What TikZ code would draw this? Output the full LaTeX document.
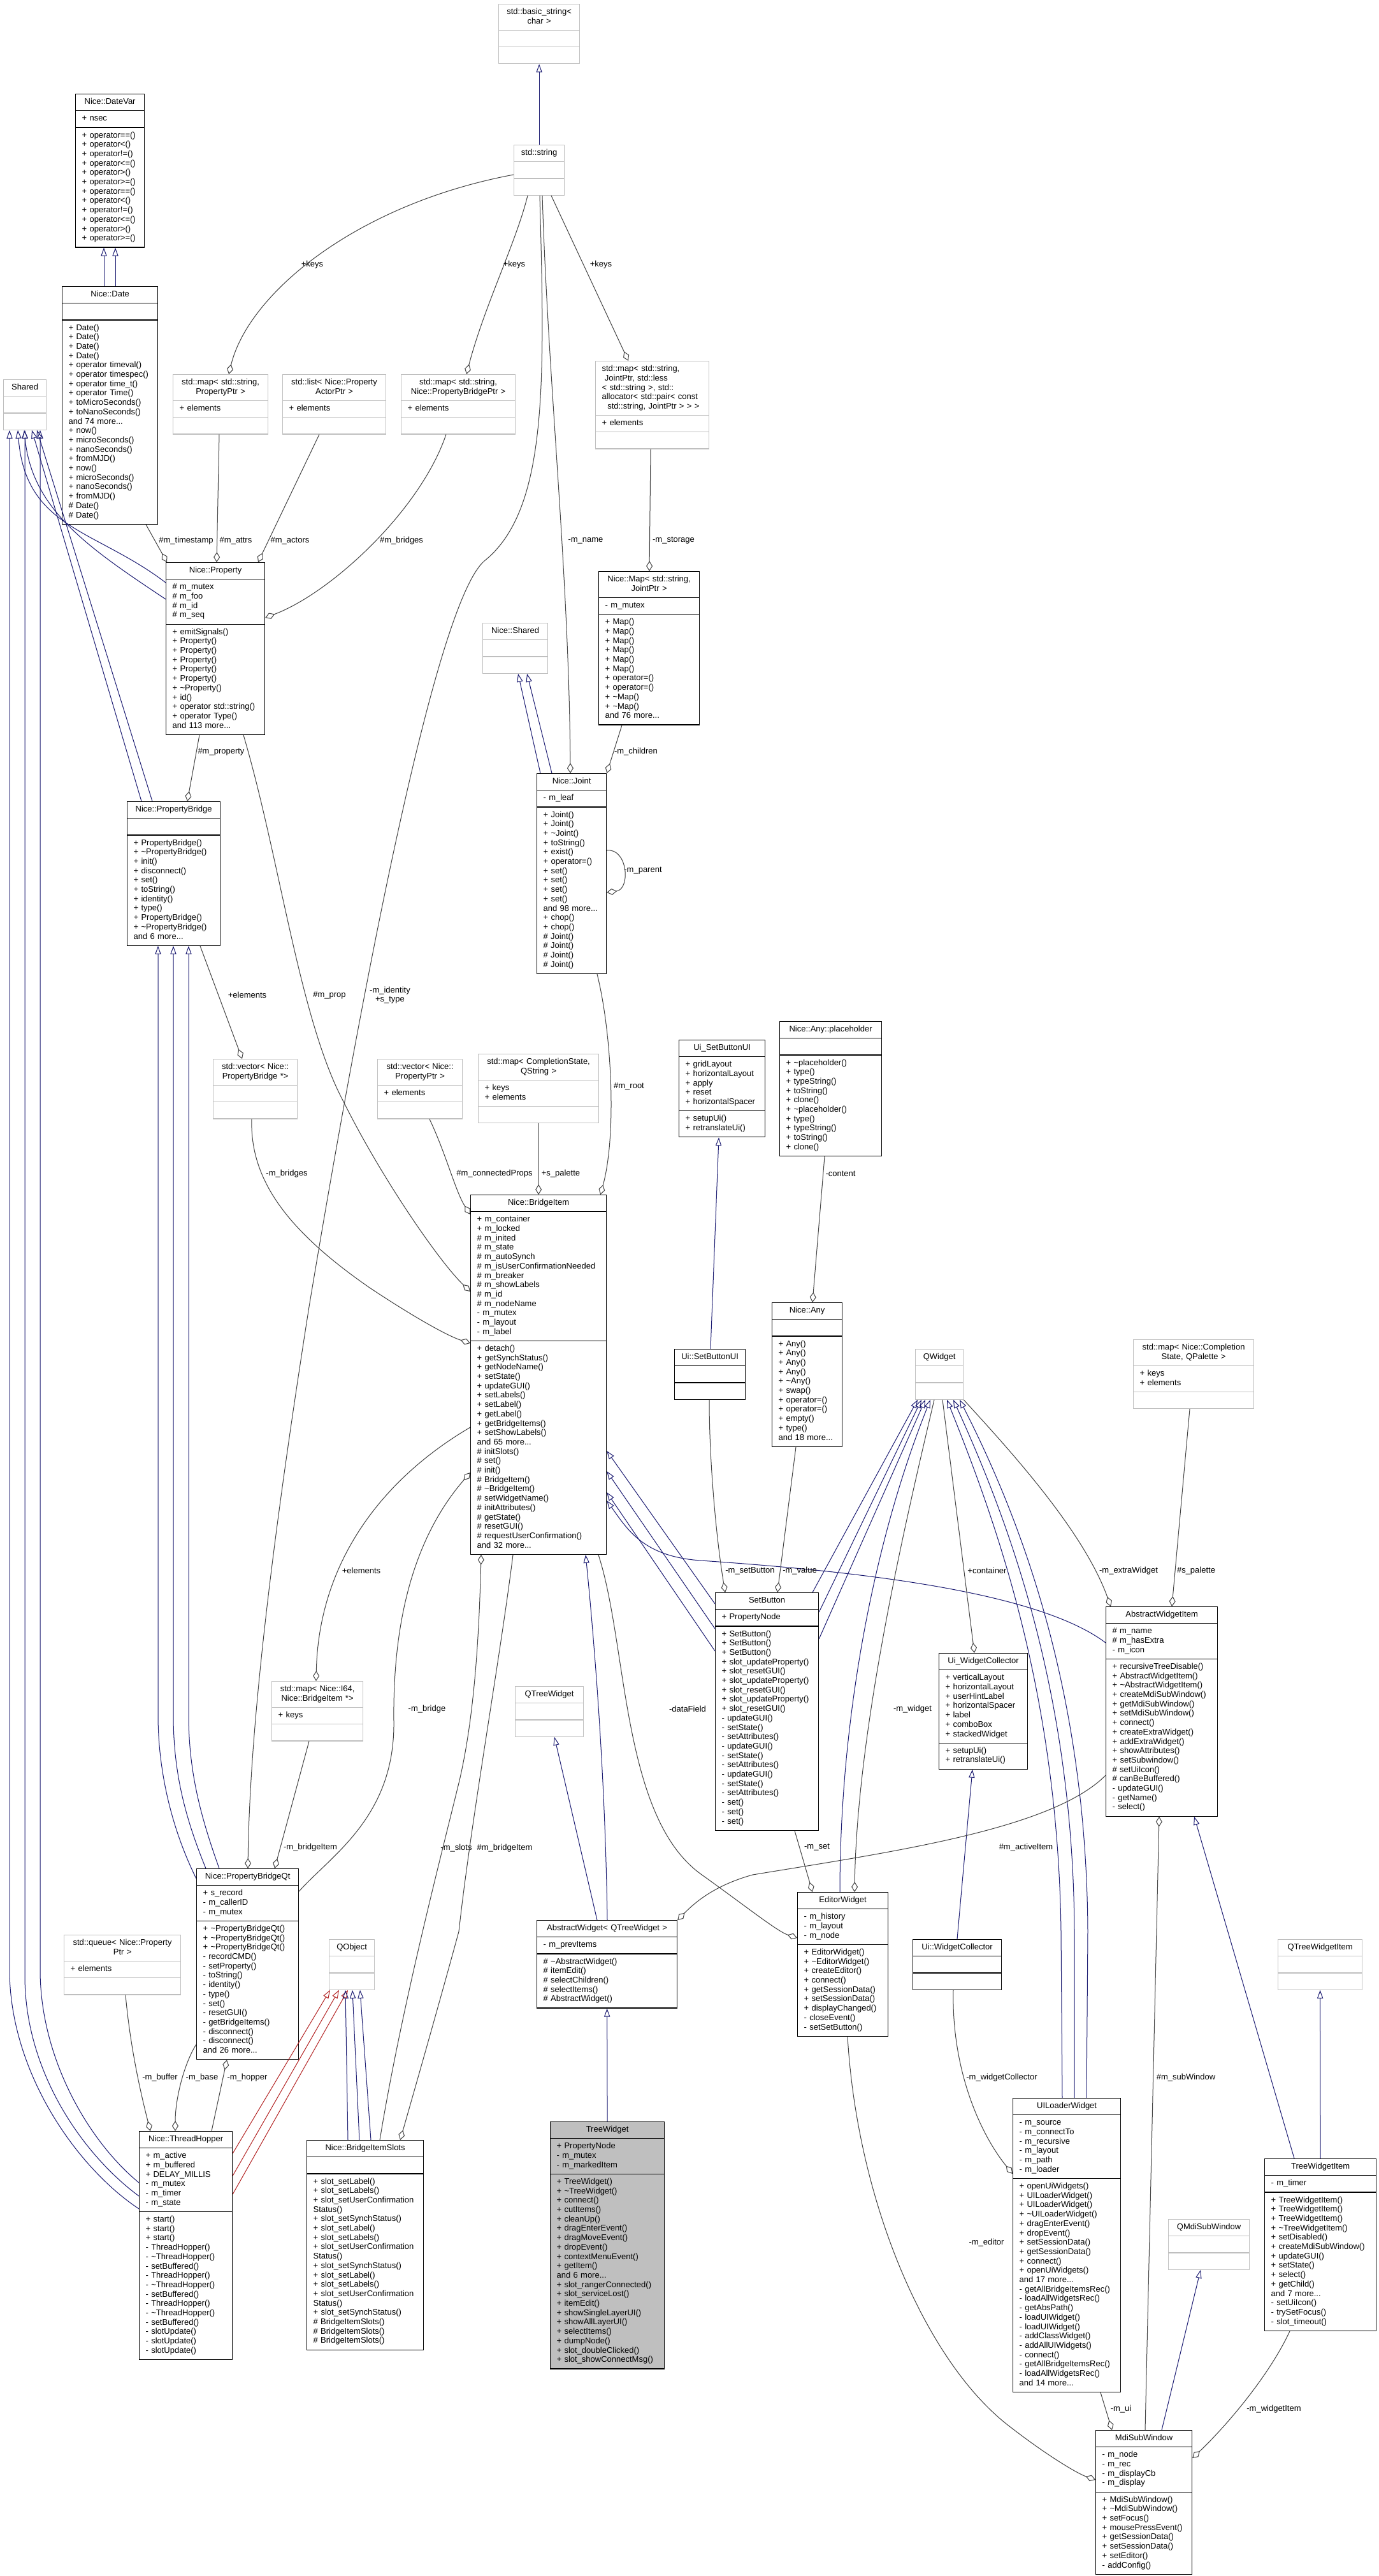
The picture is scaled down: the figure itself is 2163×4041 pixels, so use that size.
\documentclass[tikz,border=0pt]{standalone}
\usepackage{fontspec}
\setmainfont{Liberation Sans}
\usepackage{tikz}
\usetikzlibrary{arrows.meta,shapes.multipart,calc}
\definecolor{inhblue}{HTML}{191970}
\definecolor{privred}{HTML}{B22222}
\definecolor{usegray}{HTML}{404040}
\definecolor{undocgray}{HTML}{BFBFBF}
\newcommand{\umlfont}{\fontsize{6.5pt}{7.35pt}\selectfont}
\makeatletter
\newcommand{\umlrows}[1]{\uml@first#1\\\@nil\\}
\def\uml@first#1\\{\mbox{\strut#1}\uml@next}
\def\uml@next#1\\{\ifx\@nil#1\par\else\par\mbox{\strut#1}\expandafter\uml@next\fi}
\makeatother
\newcommand{\jl}[1]{\makebox[79pt][l]{#1}}
\tikzset{
    umlbox/.style={rectangle split, rectangle split parts=3, draw=black, line width=0.6pt, anchor=north west, inner xsep=5pt, inner ysep=2.575pt, font=\umlfont},
    undocbox/.style={draw=undocgray},
    curbox/.style={fill=undocgray},
    inhline/.style={draw=inhblue, line width=0.5pt, -{Triangle[open, length=6.5pt, width=4.6pt]}},
    privline/.style={inhline, draw=privred},
    useline/.style={draw=usegray, line width=0.5pt, -{Diamond[open, length=8pt, width=5pt]}},
    edgelbl/.style={font=\umlfont, inner sep=0pt, align=center}
}
\newcommand{\umlclass}[8][]{%
    \pgfmathsetlengthmacro{\umlw}{#5*0.5pt-10pt}%
    \node[umlbox, #1, text width=\umlw] (#2) at (#3,#4)
        {\umlfont\centering\umlrows{#6}\nodepart{two}\umlfont\raggedright\umlrows{#7}\nodepart{three}\umlfont\raggedright\umlrows{#8}};}

\begin{document}
\begin{tikzpicture}[x=0.5pt, y=-0.5pt]
    \useasboundingbox (0,0) rectangle (2163,4041);
    % classes
    \umlclass[undocbox]{basic}{782}{6}{127}{std::basic\_string<\\char >}{}{}
    \umlclass[undocbox]{stdstring}{806}{227}{79}{std::string}{}{}
    \umlclass{datevar}{118}{147}{108}{Nice::DateVar}{+ nsec}{+ operator==()\\+ operator<()\\+ operator!=()\\+ operator<=()\\+ operator>()\\+ operator>=()\\+ operator==()\\+ operator<()\\+ operator!=()\\+ operator<=()\\+ operator>()\\+ operator>=()}
    \umlclass{date}{97}{449}{150}{Nice::Date}{}{+ Date()\\+ Date()\\+ Date()\\+ Date()\\+ operator timeval()\\+ operator timespec()\\+ operator time\_t()\\+ operator Time()\\+ toMicroSeconds()\\+ toNanoSeconds()\\and 74 more...\\+ now()\\+ microSeconds()\\+ nanoSeconds()\\+ fromMJD()\\+ now()\\+ microSeconds()\\+ nanoSeconds()\\+ fromMJD()\\\# Date()\\\# Date()}
    \umlclass[undocbox]{shared}{5}{595}{67}{Shared}{}{}
    \umlclass[undocbox]{mapprop}{271}{587}{149}{std::map< std::string,\\PropertyPtr >}{+ elements}{}
    \umlclass[undocbox]{listactor}{443}{587}{162}{std::list< Nice::Property\\ActorPtr >}{+ elements}{}
    \umlclass[undocbox]{mapbridge}{629}{587}{179}{std::map< std::string,\\Nice::PropertyBridgePtr >}{+ elements}{}
    \umlclass[undocbox]{mapjoint}{934}{566}{178}{\jl{std::map< std::string,}\\\jl{\ JointPtr, std::less}\\\jl{< std::string >, std::}\\\jl{allocator< std::pair< const}\\\jl{\ \ std::string, JointPtr > > >}}{+ elements}{}
    \umlclass{prop}{260}{882}{155}{Nice::Property}{\# m\_mutex\\\# m\_foo\\\# m\_id\\\# m\_seq}{+ emitSignals()\\+ Property()\\+ Property()\\+ Property()\\+ Property()\\+ Property()\\+ \textasciitilde Property()\\+ id()\\+ operator std::string()\\+ operator Type()\\and 113 more...}
    \umlclass{map}{939}{896}{158}{Nice::Map< std::string,\\JointPtr >}{- m\_mutex}{+ Map()\\+ Map()\\+ Map()\\+ Map()\\+ Map()\\+ Map()\\+ operator=()\\+ operator=()\\+ \textasciitilde Map()\\+ \textasciitilde Map()\\and 76 more...}
    \umlclass[undocbox]{nshared}{757}{977}{102}{Nice::Shared}{}{}
    \umlclass{joint}{842}{1213}{109}{Nice::Joint}{- m\_leaf}{+ Joint()\\+ Joint()\\+ \textasciitilde Joint()\\+ toString()\\+ exist()\\+ operator=()\\+ set()\\+ set()\\+ set()\\+ set()\\and 98 more...\\+ chop()\\+ chop()\\\# Joint()\\\# Joint()\\\# Joint()\\\# Joint()}
    \umlclass{pbridge}{199}{1257}{146}{Nice::PropertyBridge}{}{+ PropertyBridge()\\+ \textasciitilde PropertyBridge()\\+ init()\\+ disconnect()\\+ set()\\+ toString()\\+ identity()\\+ type()\\+ PropertyBridge()\\+ \textasciitilde PropertyBridge()\\and 6 more...}
    \umlclass[undocbox]{vecbridge}{334}{1661}{132}{std::vector< Nice::\\PropertyBridge *>}{}{}
    \umlclass[undocbox]{vecprop}{592}{1661}{133}{std::vector< Nice::\\PropertyPtr >}{+ elements}{}
    \umlclass[undocbox]{mapqstring}{750}{1653}{189}{std::map< CompletionState,\\QString >}{+ keys\\+ elements}{}
    \umlclass{sbbase}{1065}{1631}{135}{Ui\_SetButtonUI}{+ gridLayout\\+ horizontalLayout\\+ apply\\+ reset\\+ horizontalSpacer}{+ setupUi()\\+ retranslateUi()}
    \umlclass{placeholder}{1223}{1602}{160}{Nice::Any::placeholder}{}{+ \textasciitilde placeholder()\\+ type()\\+ typeString()\\+ toString()\\+ clone()\\+ \textasciitilde placeholder()\\+ type()\\+ typeString()\\+ toString()\\+ clone()}
    \umlclass{bridgeitem}{738}{1874}{213}{Nice::BridgeItem}{+ m\_container\\+ m\_locked\\\# m\_inited\\\# m\_state\\\# m\_autoSynch\\\# m\_isUserConfirmationNeeded\\\# m\_breaker\\\# m\_showLabels\\\# m\_id\\\# m\_nodeName\\- m\_mutex\\- m\_layout\\- m\_label}{+ detach()\\+ getSynchStatus()\\+ getNodeName()\\+ setState()\\+ updateGUI()\\+ setLabels()\\+ setLabel()\\+ getLabel()\\+ getBridgeItems()\\+ setShowLabels()\\and 65 more...\\\# initSlots()\\\# set()\\\# init()\\\# BridgeItem()\\\# \textasciitilde BridgeItem()\\\# setWidgetName()\\\# initAttributes()\\\# getState()\\\# resetGUI()\\\# requestUserConfirmation()\\and 32 more...}
    \umlclass{uisb}{1058}{2116}{111}{Ui::SetButtonUI}{}{}
    \umlclass{any}{1211}{2043}{110}{Nice::Any}{}{+ Any()\\+ Any()\\+ Any()\\+ Any()\\+ \textasciitilde Any()\\+ swap()\\+ operator=()\\+ operator=()\\+ empty()\\+ type()\\and 18 more...}
    \umlclass[undocbox]{qwidget}{1436}{2116}{75}{QWidget}{}{}
    \umlclass[undocbox]{mappalette}{1778}{2101}{189}{std::map< Nice::Completion\\State, QPalette >}{+ keys\\+ elements}{}
    \umlclass{setbutton}{1122}{2498}{162}{SetButton}{+ PropertyNode}{+ SetButton()\\+ SetButton()\\+ SetButton()\\+ slot\_updateProperty()\\+ slot\_resetGUI()\\+ slot\_updateProperty()\\+ slot\_resetGUI()\\+ slot\_updateProperty()\\+ slot\_resetGUI()\\- updateGUI()\\- setState()\\- setAttributes()\\- updateGUI()\\- setState()\\- setAttributes()\\- updateGUI()\\- setState()\\- setAttributes()\\- set()\\- set()\\- set()}
    \umlclass{uiwcbase}{1473}{2593}{139}{Ui\_WidgetCollector}{+ verticalLayout\\+ horizontalLayout\\+ userHintLabel\\+ horizontalSpacer\\+ label\\+ comboBox\\+ stackedWidget}{+ setupUi()\\+ retranslateUi()}
    \umlclass{awitem}{1735}{2520}{175}{AbstractWidgetItem}{\# m\_name\\\# m\_hasExtra\\- m\_icon}{+ recursiveTreeDisable()\\+ AbstractWidgetItem()\\+ \textasciitilde AbstractWidgetItem()\\+ createMdiSubWindow()\\+ getMdiSubWindow()\\+ setMdiSubWindow()\\+ connect()\\+ createExtraWidget()\\+ addExtraWidget()\\+ showAttributes()\\+ setSubwindow()\\\# setUiIcon()\\\# canBeBuffered()\\- updateGUI()\\- getName()\\- select()}
    \umlclass[undocbox]{mapi64}{426}{2637}{143}{std::map< Nice::I64,\\Nice::BridgeItem *>}{+ keys}{}
    \umlclass[undocbox]{qtreewidget}{808}{2645}{107}{QTreeWidget}{}{}
    \umlclass{pbqt}{308}{2931}{160}{Nice::PropertyBridgeQt}{+ s\_record\\- m\_callerID\\- m\_mutex}{+ \textasciitilde PropertyBridgeQt()\\+ \textasciitilde PropertyBridgeQt()\\+ \textasciitilde PropertyBridgeQt()\\- recordCMD()\\- setProperty()\\- toString()\\- identity()\\- type()\\- set()\\- resetGUI()\\- getBridgeItems()\\- disconnect()\\- disconnect()\\and 26 more...}
    \umlclass{absw}{842}{3012}{220}{AbstractWidget< QTreeWidget >}{- m\_prevItems}{\# \textasciitilde AbstractWidget()\\\# itemEdit()\\\# selectChildren()\\\# selectItems()\\\# AbstractWidget()}
    \umlclass{editor}{1251}{2968}{142}{EditorWidget}{- m\_history\\- m\_layout\\- m\_node}{+ EditorWidget()\\+ \textasciitilde EditorWidget()\\+ createEditor()\\+ connect()\\+ getSessionData()\\+ setSessionData()\\+ displayChanged()\\- closeEvent()\\- setSetButton()}
    \umlclass[undocbox]{queue}{100}{3035}{183}{std::queue< Nice::Property\\Ptr >}{+ elements}{}
    \umlclass[undocbox]{qobject}{516}{3042}{71}{QObject}{}{}
    \umlclass{uiwc}{1432}{3042}{139}{Ui::WidgetCollector}{}{}
    \umlclass[undocbox]{qtwitem}{2005}{3042}{132}{QTreeWidgetItem}{}{}
    \umlclass{hopper}{218}{3343}{146}{Nice::ThreadHopper}{+ m\_active\\+ m\_buffered\\+ DELAY\_MILLIS\\- m\_mutex\\- m\_timer\\- m\_state}{+ start()\\+ start()\\+ start()\\- ThreadHopper()\\- \textasciitilde ThreadHopper()\\- setBuffered()\\- ThreadHopper()\\- \textasciitilde ThreadHopper()\\- setBuffered()\\- ThreadHopper()\\- \textasciitilde ThreadHopper()\\- setBuffered()\\- slotUpdate()\\- slotUpdate()\\- slotUpdate()}
    \umlclass{slots}{481}{3357}{183}{Nice::BridgeItemSlots}{}{+ slot\_setLabel()\\+ slot\_setLabels()\\+ slot\_setUserConfirmation\\Status()\\+ slot\_setSynchStatus()\\+ slot\_setLabel()\\+ slot\_setLabels()\\+ slot\_setUserConfirmation\\Status()\\+ slot\_setSynchStatus()\\+ slot\_setLabel()\\+ slot\_setLabels()\\+ slot\_setUserConfirmation\\Status()\\+ slot\_setSynchStatus()\\\# BridgeItemSlots()\\\# BridgeItemSlots()\\\# BridgeItemSlots()}
    \umlclass[curbox]{treewidget}{863}{3328}{179}{TreeWidget}{+ PropertyNode\\- m\_mutex\\- m\_markedItem}{+ TreeWidget()\\+ \textasciitilde TreeWidget()\\+ connect()\\+ cutItems()\\+ cleanUp()\\+ dragEnterEvent()\\+ dragMoveEvent()\\+ dropEvent()\\+ contextMenuEvent()\\+ getItem()\\and 6 more...\\+ slot\_rangerConnected()\\+ slot\_serviceLost()\\+ itemEdit()\\+ showSingleLayerUI()\\+ showAllLayerUI()\\+ selectItems()\\+ dumpNode()\\+ slot\_doubleClicked()\\+ slot\_showConnectMsg()}
    \umlclass{uiloader}{1589}{3291}{169}{UILoaderWidget}{- m\_source\\- m\_connectTo\\- m\_recursive\\- m\_layout\\- m\_path\\- m\_loader}{+ openUiWidgets()\\+ UILoaderWidget()\\+ UILoaderWidget()\\+ \textasciitilde UILoaderWidget()\\+ dragEnterEvent()\\+ dropEvent()\\+ setSessionData()\\+ getSessionData()\\+ connect()\\+ openUiWidgets()\\and 17 more...\\- getAllBridgeItemsRec()\\- loadAllWidgetsRec()\\- getAbsPath()\\- loadUIWidget()\\- loadUIWidget()\\- addClassWidget()\\- addAllUIWidgets()\\- connect()\\- getAllBridgeItemsRec()\\- loadAllWidgetsRec()\\and 14 more...}
    \umlclass[undocbox]{qmdi}{1833}{3481}{127}{QMdiSubWindow}{}{}
    \umlclass{twitem}{1984}{3386}{175}{TreeWidgetItem}{- m\_timer}{+ TreeWidgetItem()\\+ TreeWidgetItem()\\+ TreeWidgetItem()\\+ \textasciitilde TreeWidgetItem()\\+ setDisabled()\\+ createMdiSubWindow()\\+ updateGUI()\\+ setState()\\+ select()\\+ getChild()\\and 7 more...\\- setUiIcon()\\- trySetFocus()\\- slot\_timeout()}
    \umlclass{mdi}{1719}{3812}{151}{MdiSubWindow}{- m\_node\\- m\_rec\\- m\_displayCb\\- m\_display}{+ MdiSubWindow()\\+ \textasciitilde MdiSubWindow()\\+ setFocus()\\+ mousePressEvent()\\+ getSessionData()\\+ setSessionData()\\+ setEditor()\\- addConfig()}
    % inheritance
    \draw[inhline] (stdstring.north) -- (basic.south);
    \draw[inhline] ($(date.north west)+(66,0)$) -- ($(datevar.south west)+(45,0)$);
    \draw[inhline] ($(date.north west)+(84,0)$) -- ($(datevar.south west)+(63,0)$);
    \draw[inhline] ($(prop.north west)+(0,32)$) .. controls (150,830) and (40,830) .. ($(shared.south west)+(23,0)$);
    \draw[inhline] ($(prop.north west)+(0,58)$) .. controls (140,860) and (50,800) .. ($(shared.south west)+(33,0)$);
    \draw[inhline] ($(pbridge.north west)+(23,0)$) -- ($(shared.south west)+(45,0)$);
    \draw[inhline] ($(pbridge.north west)+(40,0)$) -- ($(shared.south west)+(53,0)$);
    \draw[inhline] ($(hopper.north west)+(0,122)$) .. controls (120,3400) and (15,3250) .. (15,3090) -- ($(shared.south west)+(10,0)$);
    \draw[inhline] ($(hopper.north west)+(0,102)$) .. controls (130,3380) and (39,3250) .. (39,3100) -- ($(shared.south west)+(34,0)$);
    \draw[inhline] ($(hopper.north west)+(0,81)$) .. controls (140,3360) and (63,3230) .. (63,3090) -- ($(shared.south west)+(58,0)$);
    \draw[inhline] ($(pbqt.north west)+(0,16)$) .. controls (270,2870) and (248,2780) .. (248,2690) -- ($(pbridge.south west)+(49,0)$);
    \draw[inhline] ($(pbqt.north west)+(15,0)$) .. controls (290,2850) and (272,2780) .. (272,2690) -- ($(pbridge.south west)+(73,0)$);
    \draw[inhline] ($(pbqt.north west)+(36,0)$) .. controls (315,2850) and (296,2780) .. (296,2690) -- ($(pbridge.south west)+(97,0)$);
    \draw[inhline] ($(joint.north west)+(6,0)$) -- ($(nshared.south west)+(56,0)$);
    \draw[inhline] ($(joint.north west)+(24,0)$) -- ($(nshared.south west)+(70,0)$);
    \draw[inhline] ($(setbutton.north west)+(0,18)$) -- ($(bridgeitem.north east)+(0,402)$);
    \draw[inhline] ($(setbutton.north west)+(0,57)$) -- ($(bridgeitem.north east)+(0,434)$);
    \draw[inhline] ($(setbutton.north west)+(0,92)$) -- ($(bridgeitem.north east)+(0,467)$);
    \draw[inhline] ($(awitem.north west)+(0,57)$) .. controls (1620,2490) and (1300,2462) .. (1100,2448) .. controls (1010,2442) and (985,2400) .. ($(bridgeitem.north east)+(0,480)$);
    \draw[inhline] ($(absw.north west)+(111,0)$) .. controls (950,2800) and (935,2600) .. ($(bridgeitem.south west)+(181,0)$);
    \draw[inhline] ($(absw.north west)+(95,0)$) -- ($(qtreewidget.south west)+(62,0)$);
    \draw[inhline] (treewidget.north) -- (absw.south);
    \draw[inhline] ($(uisb.north west)+(57,0)$) -- ($(sbbase.south west)+(63,0)$);
    \draw[inhline] ($(setbutton.north west)+(153,0)$) -- ($(qwidget.south west)+(4,0)$);
    \draw[inhline] ($(setbutton.north east)+(0,31)$) -- ($(qwidget.south west)+(10,0)$);
    \draw[inhline] ($(setbutton.north east)+(0,73)$) -- ($(qwidget.south west)+(16,0)$);
    \draw[inhline] ($(editor.north west)+(67,0)$) .. controls (1318,2700) and (1370,2420) .. ($(qwidget.south west)+(24,0)$);
    \draw[inhline] ($(uiloader.north west)+(78,0)$) -- (1665,3030) .. controls (1660,2650) and (1560,2380) .. ($(qwidget.south west)+(50,0)$);
    \draw[inhline] ($(uiloader.north west)+(97,0)$) -- (1686,3030) .. controls (1684,2650) and (1580,2380) .. ($(qwidget.south west)+(60,0)$);
    \draw[inhline] ($(uiloader.north west)+(116,0)$) -- (1707,3030) .. controls (1705,2650) and (1600,2380) .. ($(qwidget.south west)+(70,0)$);
    \draw[inhline] ($(uiwc.north west)+(70,0)$) -- ($(uiwcbase.south west)+(53,0)$);
    \draw[inhline] ($(twitem.north west)+(47,0)$) -- ($(awitem.south west)+(139,0)$);
    \draw[inhline] (twitem.north) -- (qtwitem.south);
    \draw[inhline] ($(mdi.north west)+(104,0)$) -- ($(qmdi.south west)+(51,0)$);
    \draw[privline] ($(hopper.north east)+(0,35)$) -- ($(qobject.south west)+(2,0)$);
    \draw[privline] ($(hopper.north east)+(0,70)$) -- ($(qobject.south west)+(16,0)$);
    \draw[privline] ($(hopper.north east)+(0,99)$) -- ($(qobject.south west)+(30,0)$);
    \draw[inhline] ($(slots.north west)+(65,0)$) -- ($(qobject.south west)+(26,0)$);
    \draw[inhline] ($(slots.north west)+(83,0)$) -- ($(qobject.south west)+(37,0)$);
    \draw[inhline] ($(slots.north west)+(101,0)$) -- ($(qobject.south west)+(49,0)$);
    % usage
    \draw[useline] ($(stdstring.north west)+(0,47)$) .. controls (560,320) and (390,460) .. ($(mapprop.north west)+(88,0)$) node[edgelbl] (lkeysa) at (490,415) {+keys};
    \draw[useline] ($(stdstring.south west)+(22,0)$) .. controls (810,380) and (760,480) .. ($(mapbridge.north west)+(103,0)$) node[edgelbl] (lkeysb) at (807,415) {+keys};
    \draw[useline] ($(stdstring.south west)+(59,0)$) -- ($(mapjoint.north west)+(52,0)$) node[edgelbl] (lkeysc) at (943,415) {+keys};
    \draw[useline] ($(stdstring.south west)+(45,0)$) .. controls (860,600) and (893,900) .. ($(joint.north west)+(53,0)$) node[edgelbl] (lname) at (919,848) {-m\_name};
    \draw[useline] ($(stdstring.south west)+(41,0)$) .. controls (855,600) and (860,800) .. (760,880) .. controls (680,950) and (560,1600) .. (485,2050) .. controls (430,2400) and (392,2700) .. ($(pbqt.north west)+(81,0)$) node[edgelbl] (lident) at (612,1561) {-m\_identity\\+s\_type};
    \draw[useline] ($(mapprop.south west)+(73,0)$) -- ($(prop.north west)+(80,0)$) node[edgelbl] (lattrs) at (370,848) {\#m\_attrs};
    \draw[useline] ($(listactor.south west)+(58,0)$) -- ($(prop.north west)+(145,0)$) node[edgelbl] (lactors) at (455,848) {\#m\_actors};
    \draw[useline] ($(mapbridge.south west)+(71,0)$) .. controls (660,800) and (520,930) .. ($(prop.north east)+(0,87)$) node[edgelbl] (lbridges) at (630,848) {\#m\_bridges};
    \draw[useline] ($(date.south west)+(132,0)$) -- ($(prop.north west)+(2,0)$) node[edgelbl] (lstamp) at (292,848) {\#m\_timestamp};
    \draw[useline] ($(prop.south west)+(53,0)$) -- ($(pbridge.north west)+(95,0)$) node[edgelbl] (lproperty) at (347,1179) {\#m\_property};
    \draw[useline] ($(prop.south west)+(122,0)$) .. controls (440,1350) and (470,1600) .. (540,1730) .. controls (600,1850) and (690,1980) .. ($(bridgeitem.north west)+(0,152)$) node[edgelbl] (lprop) at (517,1561) {\#m\_prop};
    \draw[useline] ($(pbridge.south west)+(115,0)$) -- ($(vecbridge.north west)+(46,0)$) node[edgelbl] (lelemsa) at (388,1561) {+elements};
    \draw[useline] ($(vecbridge.south west)+(61,0)$) .. controls (392,1850) and (450,1930) .. (580,2020) .. controls (640,2060) and (700,2095) .. ($(bridgeitem.north west)+(0,233)$) node[edgelbl] (lbridgesb) at (450,1841) {-m\_bridges};
    \draw[useline] ($(vecprop.south west)+(82,0)$) .. controls (700,1810) and (715,1870) .. ($(bridgeitem.north west)+(0,31)$) node[edgelbl] (lconn) at (776,1841) {\#m\_connectedProps};
    \draw[useline] (mapqstring.south) -- (bridgeitem.north) node[edgelbl] (lpalette) at (880,1841) {+s\_palette};
    \draw[useline] ($(joint.south west)+(95,0)$) .. controls (960,1620) and (968,1780) .. ($(bridgeitem.north east)+(-10,0)$) node[edgelbl] (lroot) at (987,1704) {\#m\_root};
    \draw[useline] ($(map.south west)+(37,0)$) -- (joint.north east) node[edgelbl] (lchildren) at (998,1179) {-m\_children};
    \draw[useline] ($(mapjoint.south west)+(87,0)$) -- ($(map.north west)+(80,0)$) node[edgelbl] (lstorage) at (1057,848) {-m\_storage};
    \draw[useline] ($(joint.north east)+(0,121)$) .. controls (985,1330) and (990,1395) .. ($(joint.north east)+(0,187)$) node[edgelbl] (lparent) at (1009,1366) {-m\_parent};
    \draw[useline] ($(placeholder.south west)+(71,0)$) -- ($(any.north west)+(64,0)$) node[edgelbl] (lcontent) at (1319,1841) {-content};
    \draw[useline] ($(uisb.south west)+(55,0)$) .. controls (1113,2300) and (1125,2420) .. ($(setbutton.north west)+(16,0)$) node[edgelbl] (lsetbtn) at (1177,2464) {-m\_setButton};
    \draw[useline] ($(any.south west)+(38,0)$) -- ($(setbutton.north west)+(98,0)$) node[edgelbl] (lvalue) at (1255,2464) {-m\_value};
    \draw[useline] ($(bridgeitem.south west)+(201,0)$) .. controls (985,2580) and (975,2850) .. (1100,2940) .. controls (1170,2990) and (1220,3030) .. ($(editor.north west)+(0,72)$) node[edgelbl] (ldata) at (1079,2681) {-dataField};
    \draw[useline] ($(setbutton.south west)+(125,0)$) -- ($(editor.north west)+(24,0)$) node[edgelbl] (lset) at (1282,2898) {-m\_set};
    \draw[useline] ($(qwidget.south west)+(30,0)$) .. controls (1430,2350) and (1345,2700) .. ($(editor.north west)+(90,0)$) node[edgelbl] (lwidget) at (1432,2681) {-m\_widget};
    \draw[useline] ($(qwidget.south west)+(43,0)$) -- ($(uiwcbase.north west)+(56,0)$) node[edgelbl] (lcontainer) at (1549,2464) {+container};
    \draw[useline] (qwidget.south east) .. controls (1580,2270) and (1700,2400) .. ($(awitem.north west)+(8,0)$) node[edgelbl] (lextra) at (1771,2464) {-m\_extraWidget};
    \draw[useline] ($(mappalette.south west)+(89,0)$) -- ($(awitem.north west)+(104,0)$) node[edgelbl] (lspalette) at (1877,2464) {\#s\_palette};
    \draw[useline] ($(awitem.north west)+(0,265)$) .. controls (1650,2870) and (1400,2905) .. (1181,2941) .. controls (1120,2958) and (1090,2985) .. (absw.north east) node[edgelbl] (lactive) at (1610,2898) {\#m\_activeItem};
    \draw[useline] ($(mdi.north west)+(78,0)$) -- ($(awitem.south west)+(84,0)$) node[edgelbl] (lsubwin) at (1861,3259) {\#m\_subWindow};
    \draw[useline] ($(uiwc.south west)+(64,0)$) .. controls (1493,3250) and (1540,3350) .. ($(uiloader.north west)+(0,119)$) node[edgelbl] (lwcoll) at (1572,3259) {-m\_widgetCollector};
    \draw[useline] ($(uiloader.south west)+(138,0)$) -- ($(mdi.north west)+(26,0)$) node[edgelbl] (lui) at (1759,3779) {-m\_ui};
    \draw[useline] ($(editor.south west)+(79,0)$) .. controls (1345,3450) and (1450,3700) .. (1580,3803) .. controls (1640,3850) and (1690,3880) .. ($(mdi.north west)+(0,78)$) node[edgelbl] (leditor) at (1548,3518) {-m\_editor};
    \draw[useline] ($(twitem.south west)+(40,0)$) .. controls (1990,3730) and (1920,3810) .. ($(mdi.north east)+(0,44)$) node[edgelbl] (lwitem) at (1999,3779) {-m\_widgetItem};
    \draw[useline] ($(bridgeitem.north west)+(0,365)$) .. controls (600,2320) and (500,2450) .. ($(mapi64.north west)+(70,0)$) node[edgelbl] (lelemsb) at (567,2464) {+elements};
    \draw[useline] ($(pbqt.north east)+(0,36)$) .. controls (520,2910) and (620,2850) .. (618,2700) .. controls (616,2520) and (660,2400) .. ($(bridgeitem.north west)+(0,436)$) node[edgelbl] (lbridge) at (670,2681) {-m\_bridge};
    \draw[useline] ($(slots.north west)+(115,0)$) .. controls (630,3150) and (690,2920) .. (721,2793) .. controls (745,2690) and (752,2560) .. ($(bridgeitem.south west)+(17,0)$) node[edgelbl] (lslots) at (716,2899) {-m\_slots};
    \draw[useline] ($(bridgeitem.south west)+(67,0)$) .. controls (785,2600) and (740,2850) .. (720,3030) .. controls (690,3140) and (650,3280) .. ($(slots.north west)+(147,0)$) node[edgelbl] (lbitem) at (792,2899) {\#m\_bridgeItem};
    \draw[useline] ($(mapi64.south west)+(59,0)$) -- ($(pbqt.north west)+(123,0)$) node[edgelbl] (lbitemb) at (487,2898) {-m\_bridgeItem};
    \draw[useline] ($(queue.south west)+(97,0)$) .. controls (205,3220) and (225,3300) .. ($(hopper.north west)+(18,0)$) node[edgelbl] (lbuffer) at (251,3259) {-m\_buffer};
    \draw[useline] ($(pbqt.north west)+(0,276)$) .. controls (290,3235) and (275,3290) .. ($(hopper.north west)+(57,0)$) node[edgelbl] (lbase) at (317,3259) {-m\_base};
    \draw[useline] ($(hopper.north west)+(114,0)$) -- ($(pbqt.south west)+(48,0)$) node[edgelbl] (lhopper) at (388,3259) {-m\_hopper};
\end{tikzpicture}
\end{document}
